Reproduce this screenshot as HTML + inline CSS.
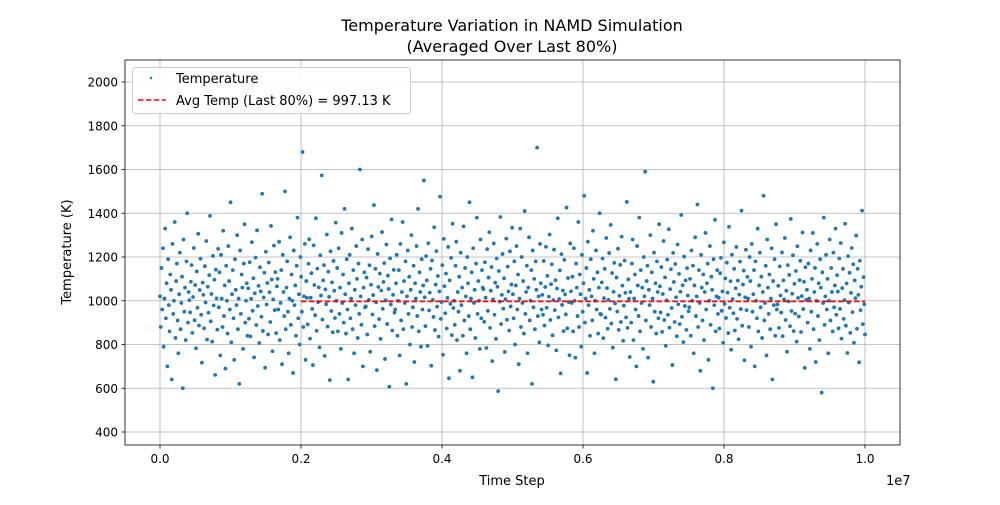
<!DOCTYPE html>
<html><head><meta charset="utf-8"><style>
body{margin:0;background:#fff;font-family:"Liberation Sans","DejaVu Sans",sans-serif}
svg text{font-family:"DejaVu Sans","Liberation Sans",sans-serif}
</style></head><body>
<svg id="chart" width="1000" height="500" viewBox="0 0 1000 500">
<rect width="1000" height="500" fill="#fff"/>
<text x="512" y="31" font-size="16" text-anchor="middle">Temperature Variation in NAMD Simulation</text>
<text x="512" y="52" font-size="16" text-anchor="middle">(Averaged Over Last 80%)</text>
<g id="grid"></g><g id="pts"></g><g id="avg"></g><g id="axes"></g>
<text x="512" y="485" font-size="13" text-anchor="middle">Time Step</text>
<text x="886" y="485" font-size="13">1e7</text>
<text transform="translate(71,252) rotate(-90)" font-size="13" text-anchor="middle">Temperature (K)</text>
<g>
<rect x="132.5" y="67.5" width="278" height="46" rx="3" fill="#fff" fill-opacity="0.85" stroke="#ccc"/>
<circle cx="151" cy="78" r="1.2" fill="#1f77b4"/>
<text x="176" y="83" font-size="13">Temperature</text>
<line x1="138" y1="100" x2="166" y2="100" stroke="red" stroke-width="1.5" stroke-dasharray="5.5,2.4"/>
<text x="176" y="105" font-size="13">Avg Temp (Last 80%) = 997.13 K</text>
</g>
</svg>
<script>
const xTicks=[0,0.2,0.4,0.6,0.8,1.0];
const xTickLabels=["0.0","0.2","0.4","0.6","0.8","1.0"];
const yTicks=[400,600,800,1000,1200,1400,1600,1800,2000];
const avgTemp=997.13;
const avgStart=0.2;
const temps=[1020,880,1150,960,1240,790,1010,1330,920,1080,700,1190,980,860,1120,1050,640,1260,940,1000,1360,830,1090,1170,910,760,1030,1220,870,990,1110,600,1280,950,1060,820,1180,1400,900,1040,
1003,947,1087,1163,853,1017,1241,911,1072,783,1134,968,1306,887,1049,1192,936,717,1083,1027,874,1158,992,1273,823,1064,945,1117,1388,906,1031,813,1205,979,1096,661,1142,1011,868,1237,
970,1130,750,1210,1010,880,1320,930,1070,690,1160,1000,850,1250,1090,960,1450,810,1030,1140,920,730,1190,1050,980,1300,870,1010,620,1230,940,1120,1060,780,1170,1350,900,1000,1080,840,
1057,918,1176,837,1009,1268,954,1103,741,1034,1197,889,1322,976,1068,807,1153,1043,927,1489,862,1015,1128,694,1224,983,1081,846,1175,1039,903,1342,1097,769,1006,1252,957,1131,852,1066,
1100,960,1270,820,990,1140,710,1210,1040,930,1500,870,1060,1180,950,760,1010,1290,890,1120,1000,670,1230,980,1070,840,1160,1380,920,1030,800,1200,1110,950,1680,880,1020,1260,730,1090,
1013,892,1169,1281,827,1014,1126,963,706,1253,1072,934,1377,863,1147,994,1061,787,1208,1024,1573,914,1093,1163,748,1052,984,1303,882,1133,1018,637,1226,953,1084,856,1182,1046,921,1357,
1000,1150,860,1240,940,1060,780,1310,990,1120,900,1420,1030,850,1190,960,640,1080,1210,920,1010,1330,870,1140,760,1050,980,1250,1100,830,1170,940,1600,1020,890,1280,700,1060,1130,970,
974,1106,846,1236,1004,1162,767,1073,1294,937,1026,1437,884,1146,993,683,1214,1063,916,1124,826,1047,1314,963,1086,1172,734,1002,1257,894,1115,1054,607,1194,983,1372,864,1027,1141,946,
960,1080,1210,840,1000,1140,750,1260,910,1040,1360,870,1090,990,1180,620,1020,1230,940,1110,800,1050,1300,880,970,1160,720,1080,1010,1250,930,1420,860,1130,1040,790,1190,960,1070,1550,
1016,884,1204,1093,794,1263,956,1037,1146,703,1184,1004,926,1336,866,1074,1227,973,1113,836,1043,1476,917,994,1163,753,1283,1067,943,1124,873,1013,1246,646,1093,986,1196,843,1352,967,
1000,890,1160,1270,820,1040,950,1110,680,1220,980,1060,840,1340,910,1150,1020,760,1200,1080,930,1450,870,1010,1130,650,1240,990,1050,830,1170,1380,940,1090,1000,780,1280,920,1140,1060,
1053,904,1176,1014,784,1236,954,1106,1313,876,1046,1154,724,1006,1262,936,1083,826,1193,1064,587,1136,996,1383,893,1027,1214,964,1103,766,1007,1284,913,1156,1043,864,1226,974,1074,1334,
1030,920,1180,800,1070,1250,960,1120,710,1010,1330,880,1200,990,1090,850,1410,940,1040,1160,760,1060,1290,910,1000,1140,620,1230,970,1100,870,1180,1050,1700,930,1020,810,1260,1080,960,
1027,936,1182,887,1063,1247,968,1114,796,1019,1303,912,1076,1167,842,1003,1234,957,1094,773,1056,1377,924,1008,1139,668,1213,981,1047,861,1187,1029,938,1426,874,1104,994,751,1262,1043,
990,1110,860,1240,1000,740,1170,1060,930,1360,880,1120,1030,790,1210,950,1080,1480,900,1010,1150,670,1270,980,1050,840,1190,1020,910,1320,1100,760,1000,1230,960,1130,850,1060,1400,940,
937,1084,1193,829,1012,1146,923,1287,1058,872,1004,1218,963,1347,896,1127,786,1041,1173,988,641,1106,951,1238,867,1023,1164,903,1293,1069,817,978,1184,1036,924,1452,876,1098,1009,743,
1040,900,1170,1280,820,1010,1120,960,700,1250,1070,930,1380,860,1140,990,1060,780,1200,1020,1590,910,1090,1160,740,1050,980,1300,880,1130,1010,630,1220,950,1080,850,1180,1040,920,1350,
1066,947,1154,858,1031,1273,912,1107,794,1002,1188,936,1327,877,1053,1144,967,706,1219,1086,903,1168,1016,838,1257,984,1123,893,1041,1392,927,1071,811,1202,976,1093,867,1149,1024,952,
970,1100,840,1230,1000,1160,760,1070,1290,930,1020,1440,880,1140,990,680,1210,1060,910,1120,820,1040,1310,960,1080,1170,730,1000,1250,890,1110,1050,600,1190,980,1370,860,1020,1140,940,
1014,873,1126,1196,954,1043,808,1267,986,1102,921,1174,1037,852,1338,968,1089,776,1211,1008,943,1146,864,1057,1246,917,1092,824,1028,1179,962,1412,886,1074,1138,728,1016,1233,957,1109,
1010,880,1200,1090,790,1260,950,1030,1140,700,1180,1000,920,1330,860,1070,1220,970,1110,830,1040,1480,910,990,1160,750,1280,1060,940,1120,870,1010,1240,640,1090,980,1190,840,1350,960,
983,1068,876,1157,1024,946,1221,838,1093,1006,1287,912,1046,767,1163,997,1118,884,1374,953,1032,1208,861,1077,941,1136,813,1249,1013,928,1094,1183,857,1021,1312,962,1087,693,1153,1004,
1050,900,1170,1010,780,1230,950,1100,1310,870,1040,1150,720,1000,1260,930,1080,820,1190,1060,580,1130,990,1380,890,1020,1210,960,1100,760,1000,1280,910,1150,1040,860,1220,970,1070,1330,
936,1117,1042,874,1193,963,1264,827,1058,1146,917,1003,1352,886,1079,761,1204,992,1128,853,1036,1241,948,1167,808,1093,1012,1298,872,1146,1027,719,1183,957,1064,1412,893,1108,984,846];
const X0=160,X1=865,PL=125,PR=900,PT=60,PB=445;
const xs=v=>X0+v*(X1-X0);
const ys=v=>432-(v-400)*(350/1600);
const NS="http://www.w3.org/2000/svg";
function mk(tag,attrs,parent){const e=document.createElementNS(NS,tag);for(const k in attrs)e.setAttribute(k,attrs[k]);parent.appendChild(e);return e;}
const grid=document.getElementById('grid'),axes=document.getElementById('axes'),pts=document.getElementById('pts'),avg=document.getElementById('avg');
xTicks.forEach((t,i)=>{const x=xs(t);
 const g=mk('line',{x1:x,x2:x,y1:PT,y2:PB,stroke:'#b0b0b0','stroke-width':0.8},grid);
 
 
 mk('line',{x1:x,x2:x,y1:PB,y2:PB+3.5,stroke:'#000','stroke-width':0.8},axes);
 const tx=mk('text',{x:x,y:PB+18,'font-size':12,'text-anchor':'middle'},axes);tx.textContent=xTickLabels[i];
 
 
});
yTicks.forEach(t=>{const y=ys(t);
 const g=mk('line',{x1:PL,x2:PR,y1:y,y2:y,stroke:'#b0b0b0','stroke-width':0.8},grid);
 
 
 mk('line',{x1:PL-3.5,x2:PL,y1:y,y2:y,stroke:'#000','stroke-width':0.8},axes);
 const tx=mk('text',{x:PL-7,y:y+4.5,'font-size':12,'text-anchor':'end'},axes);tx.textContent=t;
 
 
});
const fr=mk('rect',{x:PL,y:PT,width:PR-PL,height:PB-PT,fill:'none',stroke:'#000','stroke-width':0.8},axes);


const n=temps.length;
temps.forEach((v,i)=>{
 const c=mk('circle',{cx:xs(i/(n-1)),cy:ys(v),r:1.9,fill:'#1f77b4'},pts);
 
 
});
const al=mk('line',{x1:xs(avgStart),x2:xs(1),y1:ys(avgTemp),y2:ys(avgTemp),stroke:'red','stroke-width':1.8,'stroke-dasharray':'5.5,2.4'},avg);


</script>
</body></html>
